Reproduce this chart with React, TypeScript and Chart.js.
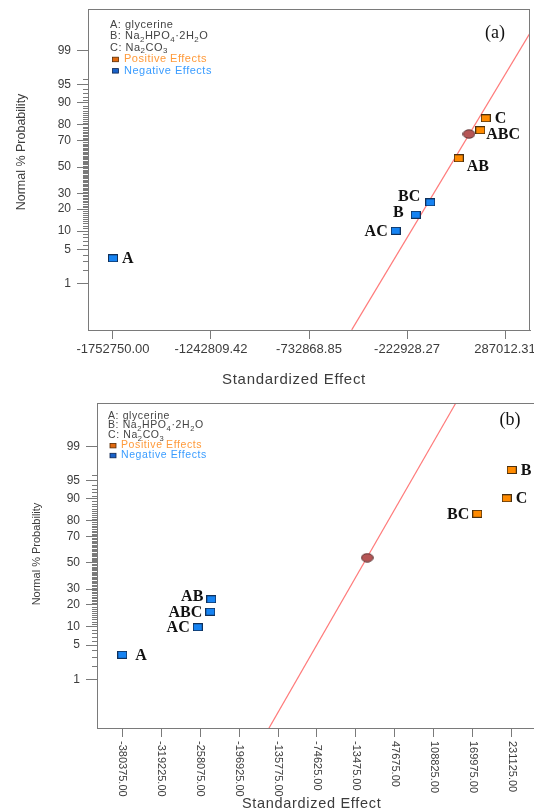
import React, { useEffect, useRef } from "react";
import { Chart, registerables } from "chart.js";
Chart.register(...registerables);

// ---------- shared axis data ----------
const yTickPercents = [1, 5, 10, 20, 30, 50, 70, 80, 90, 95, 99];
const minorTickPercents = [
  2, 3, 4, 6, 7, 8, 9, 11, 12, 13, 14, 15, 16, 17, 18, 19, 21, 22, 23, 24, 25, 26, 27, 28, 29,
  31, 32, 33, 34, 35, 36, 37, 38, 39, 40, 41, 42, 43, 44, 45, 46, 47, 48, 49, 51, 52, 53, 54, 55,
  56, 57, 58, 59, 60, 61, 62, 63, 64, 65, 66, 67, 68, 69, 71, 72, 73, 74, 75, 76, 77, 78, 79, 81,
  82, 83, 84, 85, 86, 87, 88, 89, 91, 92, 93, 94, 96,
];
const legendFactors = ["A: glycerine", "B: Na_2HPO_4·2H_2O", "C: Na_2CO_3"];
const legendEffects = ["Positive Effects", "Negative Effects"];
const xAxisTitle = "Standardized Effect";
const yAxisTitle = "Normal % Probability";

// ---------- panel (a) ----------
const effectNamesA = ["A", "AC", "B", "BC", "AB", "ABC", "C"];
const effectValuesA = [-1752750.0, -281735, -177670, -101700, 46084, 158479, 186578];
const effectProbA = [3.4, 10.1, 17.0, 24.0, 56.9, 76.9, 83.5];
const effectSignA = ["-", "-", "-", "-", "+", "+", "+"];
const labelSideA = ["right", "left", "leftHigh", "aboveLeft", "belowRight", "rightLow", "right"];
const errorValueA = [99680];
const errorProbA = [74.5];
const fitLineValueA = [-510685, 417091];
const fitLineProbA = [0.056, 99.63];
const xTickValuesA = [-1752750.0, -1242809.42, -732868.85, -222928.27, 287012.31];
const xRangeA = [-1882836, 417098];
const zRangeA = [-3.26, 3.16];

// ---------- panel (b) ----------
const effectNamesB = ["A", "AC", "ABC", "AB", "BC", "C", "B"];
const effectValuesB = [-380375, -261970, -242185, -240615, 177100, 223268, 231125];
const effectProbB = [3.3, 9.9, 16.4, 23.3, 83.6, 90.1, 96.8];
const effectSignB = ["-", "-", "-", "-", "+", "+", "+"];
const labelSideB = ["rightFar", "left", "left", "leftUp", "left", "right", "right"];
const errorValueB = [4361];
const errorProbB = [54.0];
const fitLineValueB = [-150005, 143651];
const fitLineProbB = [0.048, 99.93];
const xTickValuesB = [
  -380375, -319225, -258075, -196925, -135775, -74625, -13475, 47675, 108825, 169975, 231125,
];
const xRangeB = [-420105, 283418];
const zRangeB = [-3.3, 3.19];

// ---------- styles ----------
const SANS = "'Liberation Sans', Arial, Helvetica, sans-serif";
const SERIF = "'Liberation Serif', 'Times New Roman', serif";
const AXIS = "#7a7a7a";
const TICK = "#3c3c3c";
const ORANGE = "#ff8a00";
const BLUE = "#1683f2";
const LINE = "#ff7b7b";

const PLACE: Record<string, { align: CanvasTextAlign; dx: number; dy: number }> = {
  right: { align: "left", dx: 9, dy: 0 },
  rightFar: { align: "left", dx: 13, dy: 0 },
  rightLow: { align: "left", dx: 6, dy: 4 },
  belowRight: { align: "left", dx: 8, dy: 8 },
  left: { align: "right", dx: -8, dy: 0 },
  leftUp: { align: "right", dx: -8, dy: -3 },
  leftHigh: { align: "right", dx: -12, dy: -3 },
  aboveLeft: { align: "right", dx: -10, dy: -6 },
};

// inverse standard normal CDF (Acklam)
function probit(p: number): number {
  const a = [-39.69683028665376, 220.9460984245205, -275.9285104469687, 138.357751867269, -30.66479806614716, 2.506628277459239];
  const b = [-54.47609879822406, 161.5858368580409, -155.6989798598866, 66.80131188771972, -13.28068155288572];
  const c = [-0.007784894002430293, -0.3223964580411365, -2.400758277161838, -2.549732539343734, 4.374664141464968, 2.938163982698783];
  const d = [0.007784695709041462, 0.3224671290700398, 2.445134137142996, 3.754408661907416];
  const plow = 0.02425;
  if (p < plow) {
    const q = Math.sqrt(-2 * Math.log(p));
    return (((((c[0] * q + c[1]) * q + c[2]) * q + c[3]) * q + c[4]) * q + c[5]) / ((((d[0] * q + d[1]) * q + d[2]) * q + d[3]) * q + 1);
  }
  if (p <= 1 - plow) {
    const q = p - 0.5;
    const r = q * q;
    return ((((((a[0] * r + a[1]) * r + a[2]) * r + a[3]) * r + a[4]) * r + a[5]) * q) / (((((b[0] * r + b[1]) * r + b[2]) * r + b[3]) * r + b[4]) * r + 1);
  }
  const q = Math.sqrt(-2 * Math.log(1 - p));
  return -(((((c[0] * q + c[1]) * q + c[2]) * q + c[3]) * q + c[4]) * q + c[5]) / ((((d[0] * q + d[1]) * q + d[2]) * q + d[3]) * q + 1);
}

type Panel = {
  names: string[]; values: number[]; probs: number[]; signs: string[]; sides: string[];
  errV: number[]; errP: number[]; lineV: number[]; lineP: number[];
  xTicks: number[]; xRange: number[]; zRange: number[]; tag: string;
};
type Style = {
  width: number; height: number; top: number;
  padding: { top: number; right: number; left: number; bottom: number };
  yWidth: number; xHeight: number; rotatedX: boolean; frameRight: boolean;
  legend: { dx: number; dy: number; step: number; size: number; spacing: number; sqDx: number; txtDx: number };
  tagPos: number[]; tagSize: number; yTitle: number[]; yTitleSize: number; xTitle: number[]; xTitleSize: number;
  xTickSize: number; yTickSize: number;
};

const panelA: Panel = {
  names: effectNamesA, values: effectValuesA, probs: effectProbA, signs: effectSignA, sides: labelSideA,
  errV: errorValueA, errP: errorProbA, lineV: fitLineValueA, lineP: fitLineProbA,
  xTicks: xTickValuesA, xRange: xRangeA, zRange: zRangeA, tag: "(a)",
};
const panelB: Panel = {
  names: effectNamesB, values: effectValuesB, probs: effectProbB, signs: effectSignB, sides: labelSideB,
  errV: errorValueB, errP: errorProbB, lineV: fitLineValueB, lineP: fitLineProbB,
  xTicks: xTickValuesB, xRange: xRangeB, zRange: zRangeB, tag: "(b)",
};

const styleA: Style = {
  width: 534, height: 395, top: 0,
  padding: { top: 9, right: 4, left: 0, bottom: 0 },
  yWidth: 88, xHeight: 65, rotatedX: false, frameRight: true,
  legend: { dx: 22, dy: 16, step: 11.4, size: 11, spacing: 0.5, sqDx: 5.5, txtDx: 14 },
  tagPos: [495, 33], tagSize: 18, yTitle: [22, 152], yTitleSize: 12.5, xTitle: [294, 380], xTitleSize: 15,
  xTickSize: 13, yTickSize: 12,
};
const styleB: Style = {
  width: 545, height: 416, top: 395,
  padding: { top: 8, right: 0, left: 0, bottom: 0 },
  yWidth: 97, xHeight: 83, rotatedX: true, frameRight: false,
  legend: { dx: 11, dy: 12.7, step: 9.9, size: 10.5, spacing: 0.6, sqDx: 5, txtDx: 13 },
  tagPos: [510, 25], tagSize: 18, yTitle: [36.7, 159], yTitleSize: 11, xTitle: [311.7, 409], xTitleSize: 14.5,
  xTickSize: 11, yTickSize: 12,
};

function markerRect(fill: string, stroke: string): HTMLCanvasElement {
  const c = document.createElement("canvas");
  c.width = 10; c.height = 8;
  const g = c.getContext("2d")!;
  g.fillStyle = fill; g.fillRect(0.5, 0.5, 9, 7);
  g.strokeStyle = stroke; g.lineWidth = 1; g.strokeRect(0.5, 0.5, 9, 7);
  return c;
}
function markerEllipse(): HTMLCanvasElement {
  const c = document.createElement("canvas");
  c.width = 13; c.height = 10;
  const g = c.getContext("2d")!;
  g.beginPath(); g.ellipse(6.5, 5, 5.8, 4.2, 0, 0, Math.PI * 2);
  g.fillStyle = "#b65555"; g.fill();
  g.strokeStyle = "#5a3434"; g.lineWidth = 1; g.stroke();
  return c;
}

function setSpacing(ctx: any, px: number) {
  if ("letterSpacing" in ctx) ctx.letterSpacing = `${px}px`;
}

function drawRich(ctx: CanvasRenderingContext2D, text: string, x: number, y: number, size: number, color: string, spacing: number) {
  ctx.fillStyle = color;
  ctx.textAlign = "left";
  ctx.textBaseline = "middle";
  setSpacing(ctx, spacing);
  let cx = x;
  let buf = "";
  const flush = () => {
    if (!buf) return;
    ctx.font = `${size}px ${SANS}`;
    ctx.fillText(buf, cx, y);
    cx += ctx.measureText(buf).width;
    buf = "";
  };
  for (let i = 0; i < text.length; i++) {
    if (text[i] === "_" && i + 1 < text.length) {
      flush();
      const s = text[i + 1];
      ctx.font = `${size * 0.72}px ${SANS}`;
      ctx.fillText(s, cx, y + size * 0.3);
      cx += ctx.measureText(s).width;
      i++;
    } else buf += text[i];
  }
  flush();
  setSpacing(ctx, 0);
}

function makeDecor(p: Panel, st: Style) {
  return {
    id: "decor",
    afterDraw(chart: any) {
      const { ctx, chartArea: ca, scales } = chart;
      const xs = scales.x, ys = scales.y;
      ctx.save();
      // frame top / right
      ctx.strokeStyle = AXIS; ctx.lineWidth = 1;
      ctx.beginPath();
      ctx.moveTo(ca.left, ca.top + 0.5); ctx.lineTo(ca.right, ca.top + 0.5);
      if (st.frameRight) { ctx.moveTo(ca.right - 0.5, ca.top); ctx.lineTo(ca.right - 0.5, ca.bottom); }
      ctx.stroke();
      // minor y ticks
      ctx.beginPath();
      for (const mp of minorTickPercents) {
        const y = Math.round(ys.getPixelForValue(probit(mp / 100))) + 0.5;
        ctx.moveTo(ca.left - 5, y); ctx.lineTo(ca.left, y);
      }
      ctx.stroke();
      // rotated x labels
      if (st.rotatedX) {
        ctx.fillStyle = TICK;
        ctx.font = `${st.xTickSize}px ${SANS}`;
        ctx.textAlign = "left"; ctx.textBaseline = "middle";
        for (const v of p.xTicks) {
          const px = xs.getPixelForValue(v);
          ctx.save();
          ctx.translate(px, ca.bottom + 13);
          ctx.rotate(Math.PI / 2);
          ctx.fillText(v.toFixed(2), 0, 0);
          ctx.restore();
        }
      }
      // axis titles
      ctx.fillStyle = TICK;
      ctx.textAlign = "center"; ctx.textBaseline = "middle";
      ctx.font = `${st.xTitleSize}px ${SANS}`;
      setSpacing(ctx, 0.7);
      ctx.fillText(xAxisTitle, st.xTitle[0], st.xTitle[1]);
      setSpacing(ctx, 0);
      ctx.save();
      ctx.translate(st.yTitle[0], st.yTitle[1]);
      ctx.rotate(-Math.PI / 2);
      ctx.font = `${st.yTitleSize}px ${SANS}`;
      ctx.fillText(yAxisTitle, 0, 0);
      ctx.restore();
      // legend
      const L = st.legend;
      let ly = ca.top + L.dy;
      const lx = ca.left + L.dx;
      for (const t of legendFactors) {
        drawRich(ctx, t, lx, ly, L.size, "#444", L.spacing);
        ly += L.step;
      }
      const effCols = [["#e06a10", "#5a2a00", "#ff9a3a"], ["#1a62c8", "#0a2450", "#3a9cff"]];
      legendEffects.forEach((t, i) => {
        const [f, s, tc] = effCols[i];
        ctx.fillStyle = f; ctx.fillRect(lx + L.sqDx - 3, ly - 2, 6, 4.5);
        ctx.strokeStyle = s; ctx.lineWidth = 0.8; ctx.strokeRect(lx + L.sqDx - 3, ly - 2, 6, 4.5);
        drawRich(ctx, t, lx + L.txtDx, ly, L.size, tc, L.spacing);
        ly += L.step;
      });
      // panel tag
      ctx.fillStyle = "#111";
      ctx.font = `${st.tagSize}px ${SERIF}`;
      ctx.textAlign = "center"; ctx.textBaseline = "middle";
      ctx.fillText(p.tag, st.tagPos[0], st.tagPos[1]);
      // point labels
      ctx.font = `bold 16px ${SERIF}`;
      ctx.fillStyle = "#111";
      p.names.forEach((n, i) => {
        const px = xs.getPixelForValue(p.values[i]);
        const py = ys.getPixelForValue(probit(p.probs[i] / 100));
        const pl = PLACE[p.sides[i]];
        ctx.textAlign = pl.align;
        ctx.fillText(n, px + pl.dx, py + pl.dy + 1);
      });
      ctx.restore();
    },
  };
}

function buildConfig(p: Panel, st: Style): any {
  const pts = (vals: number[], probs: number[]) => vals.map((x, i) => ({ x, y: probit(probs[i] / 100) }));
  const all = pts(p.values, p.probs);
  const pos = all.filter((_, i) => p.signs[i] === "+");
  const neg = all.filter((_, i) => p.signs[i] === "-");
  const gridBase = { drawOnChartArea: false, drawTicks: true, color: AXIS, lineWidth: 1 };
  return {
    type: "scatter",
    data: {
      datasets: [
        { label: "Positive", data: pos, pointStyle: markerRect(ORANGE, "#4a3010"), pointRadius: 5, order: 1 },
        { label: "Negative", data: neg, pointStyle: markerRect(BLUE, "#10305a"), pointRadius: 5, order: 1 },
        { label: "Center", data: pts(p.errV, p.errP), pointStyle: markerEllipse(), pointRadius: 5, order: 2 },
        {
          label: "Fit", data: pts(p.lineV, p.lineP), showLine: true, pointRadius: 0,
          borderColor: LINE, borderWidth: 1.2, order: 3,
        },
      ],
    },
    options: {
      animation: false,
      responsive: false,
      maintainAspectRatio: false,
      events: [],
      layout: { padding: st.padding, autoPadding: false },
      plugins: { legend: { display: false }, tooltip: { enabled: false }, title: { display: false } },
      scales: {
        x: {
          type: "linear",
          min: p.xRange[0],
          max: p.xRange[1],
          afterBuildTicks: (s: any) => { s.ticks = p.xTicks.map((v) => ({ value: v })); },
          afterFit: (s: any) => {
            s.height = st.xHeight;
            s.paddingLeft = 0; s.paddingRight = 0; s.paddingTop = 0; s.paddingBottom = 0;
          },
          grid: { ...gridBase, tickLength: 9 },
          border: { display: true, color: AXIS },
          ticks: {
            display: !st.rotatedX,
            autoSkip: false, maxRotation: 0, minRotation: 0, padding: 3,
            color: TICK, font: { family: SANS, size: st.xTickSize },
            callback: (v: any) => Number(v).toFixed(2),
          },
          title: { display: false },
        },
        y: {
          type: "linear",
          min: p.zRange[0],
          max: p.zRange[1],
          afterBuildTicks: (s: any) => { s.ticks = yTickPercents.map((q) => ({ value: probit(q / 100) })); },
          afterFit: (s: any) => {
            s.width = st.yWidth;
            s.paddingLeft = 0; s.paddingRight = 0; s.paddingTop = 0; s.paddingBottom = 0;
          },
          grid: { ...gridBase, tickLength: 11 },
          border: { display: true, color: AXIS },
          ticks: {
            autoSkip: false, padding: 6,
            color: TICK, font: { family: SANS, size: st.yTickSize },
            callback: (_v: any, i: number) => String(yTickPercents[i]),
          },
          title: { display: false },
        },
      },
    },
    plugins: [makeDecor(p, st)],
  };
}

function PanelChart({ panel, st }: { panel: Panel; st: Style }) {
  const ref = useRef<HTMLCanvasElement | null>(null);
  useEffect(() => {
    if (!ref.current) return;
    const chart = new Chart(ref.current, buildConfig(panel, st));
    return () => chart.destroy();
  }, [panel, st]);
  return (
    <canvas
      ref={ref}
      width={st.width}
      height={st.height}
      style={{ position: "absolute", left: 0, top: st.top, width: st.width, height: st.height, display: "block" }}
    />
  );
}

export default function App() {
  return (
    <div
      style={{
        position: "absolute", left: 0, top: 0, width: 534, height: 811,
        overflow: "hidden", background: "#fff",
      }}
    >
      <PanelChart panel={panelA} st={styleA} />
      <PanelChart panel={panelB} st={styleB} />
    </div>
  );
}
